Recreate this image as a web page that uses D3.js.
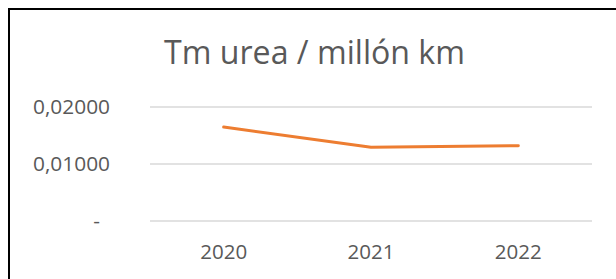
<!DOCTYPE html>
<html><head><meta charset="utf-8">
<script src="https://cdn.jsdelivr.net/npm/d3@7"></script>
<style>html,body{margin:0;padding:0;background:#fff;}svg{display:block;}</style>
</head><body>
<script>
const categories = ["2020", "2021", "2022"];
const values = [0.01649, 0.01293, 0.01321];
const yTicks = [0, 0.01, 0.02];
const yTickLabels = ["-", "0,01000", "0,02000"];
const title = "Tm urea / millón km";

const W = 616, H = 279;
const svg = d3.select("body").append("svg").attr("width", W).attr("height", H);
svg.append("rect").attr("width", W).attr("height", H).attr("fill", "#fff");

svg.append("path").attr("d", `M9,${H + 2} L9,9 L${W + 2},9`)
  .attr("fill", "none").attr("stroke", "#000").attr("stroke-width", 2);

const x = d3.scaleBand().domain(categories).range([150, 592]);
const y = d3.scaleLinear().domain([0, 0.02]).range([221, 107]);
const font = "'Open Sans', Lato, sans-serif";
const textColor = "#595959";

function fit(sel, target) {
  // scale font-size so a reference string matches measured width
  const node = sel.node();
  const fs = +sel.attr("font-size");
  const w = node.getComputedTextLength();
  if (w > 0) sel.attr("font-size", fs * target / w);
  return +sel.attr("font-size");
}

svg.append("g").selectAll("line").data(yTicks).join("line")
  .attr("x1", 150).attr("x2", 592)
  .attr("y1", d => y(d)).attr("y2", d => y(d))
  .attr("stroke", "#d9d9d9").attr("stroke-width", 1.5);

// measure y-label size
const probe = svg.append("text").attr("font-family", font).attr("font-size", 20).text("0,02000");
const yfs = fit(probe, 77); probe.remove();
const probe2 = svg.append("text").attr("font-family", font).attr("font-size", 20).text("2020");
const xfs = fit(probe2, 47); probe2.remove();

svg.append("g").selectAll("text").data(yTicks).join("text")
  .attr("x", (d, i) => yTickLabels[i] === "-" ? 100 : 110)
  .attr("y", d => y(d) + 7)
  .attr("text-anchor", "end")
  .attr("font-family", font).attr("font-size", yfs).attr("fill", textColor)
  .text((d, i) => yTickLabels[i]);

svg.append("g").selectAll("text").data(categories).join("text")
  .attr("x", d => x(d) + x.bandwidth() / 2)
  .attr("y", 259)
  .attr("text-anchor", "middle")
  .attr("font-family", font).attr("font-size", xfs).attr("fill", textColor)
  .text(d => d);

const line = d3.line().x((d, i) => x(categories[i]) + x.bandwidth() / 2).y(d => y(d));
svg.append("path").datum(values).attr("d", line)
  .attr("fill", "none").attr("stroke", "#ED7D31").attr("stroke-width", 3)
  .attr("stroke-linecap", "round").attr("stroke-linejoin", "round");

const t = svg.append("text").attr("x", 314.5).attr("y", 64)
  .attr("text-anchor", "middle")
  .attr("font-family", font).attr("font-size", 30).attr("fill", textColor)
  .text(title);
fit(t, 301);
</script>
</body></html>
